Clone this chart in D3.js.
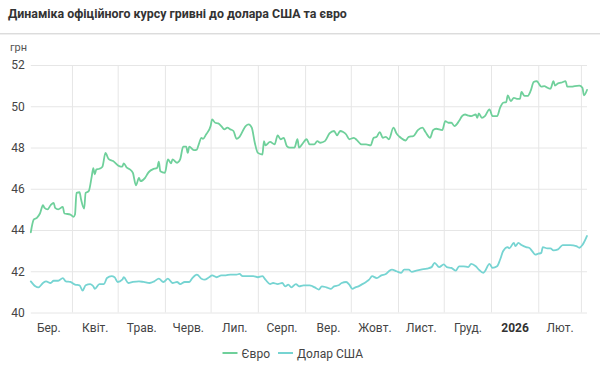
<!DOCTYPE html>
<html>
<head>
<meta charset="utf-8">
<script src="https://cdn.jsdelivr.net/npm/d3@7"></script>
<style>
  body { margin: 0; background: #fff; }
  svg { display: block; font-family: Roboto, "Liberation Sans", Arial, sans-serif; }
</style>
</head>
<body>
<svg id="chart" width="600" height="381"></svg>
<script>
// ---------- DATA ----------
const titleText = "Динаміка офіційного курсу гривні до долара США та євро";
const unitLabel = "грн";
const seriesNames = ["Євро", "Долар США"];
const yTicks = [40, 42, 44, 46, 48, 50, 52];
const monthLabels = ["Бер.", "Квіт.", "Трав.", "Черв.", "Лип.", "Серп.", "Вер.", "Жовт.", "Лист.", "Груд.", "2026", "Лют."];
const boldLabels = ["2026"];
const periodStart = "2025-03-05";
const periodEnd = "2026-03-05";

const euroDates = [
"2025-03-05","2025-03-07","2025-03-09","2025-03-11","2025-03-13","2025-03-14","2025-03-16","2025-03-18","2025-03-20","2025-03-21","2025-03-23","2025-03-26","2025-03-27","2025-03-31",
"2025-04-02","2025-04-03","2025-04-04","2025-04-06","2025-04-07","2025-04-09","2025-04-10","2025-04-12","2025-04-14","2025-04-15","2025-04-16","2025-04-17","2025-04-19","2025-04-21","2025-04-23","2025-04-25","2025-04-28",
"2025-05-02","2025-05-04","2025-05-05","2025-05-07","2025-05-09","2025-05-11","2025-05-13","2025-05-15","2025-05-16","2025-05-19","2025-05-21","2025-05-22","2025-05-24","2025-05-27","2025-05-28","2025-05-29",
"2025-06-01","2025-06-03","2025-06-05","2025-06-06","2025-06-09","2025-06-11","2025-06-13","2025-06-15","2025-06-16","2025-06-17","2025-06-20","2025-06-22","2025-06-23","2025-06-25","2025-06-26","2025-06-28",
"2025-07-01","2025-07-02","2025-07-04","2025-07-06","2025-07-08","2025-07-10","2025-07-12","2025-07-14","2025-07-16","2025-07-18","2025-07-20","2025-07-24","2025-07-26","2025-07-28","2025-07-30",
"2025-08-01","2025-08-04","2025-08-05","2025-08-06","2025-08-09","2025-08-12","2025-08-14","2025-08-16","2025-08-18","2025-08-20","2025-08-22","2025-08-25","2025-08-27","2025-08-28","2025-08-30",
"2025-09-02","2025-09-04","2025-09-07","2025-09-09","2025-09-11","2025-09-14","2025-09-17","2025-09-20","2025-09-22","2025-09-24","2025-09-26","2025-09-28","2025-09-30",
"2025-10-03","2025-10-05","2025-10-08","2025-10-11","2025-10-14","2025-10-16","2025-10-18","2025-10-20","2025-10-22","2025-10-24","2025-10-26","2025-10-29","2025-10-31",
"2025-11-02","2025-11-03","2025-11-06","2025-11-08","2025-11-11","2025-11-14","2025-11-17","2025-11-19","2025-11-22","2025-11-24","2025-11-26","2025-11-30",
"2025-12-02","2025-12-04","2025-12-06","2025-12-08","2025-12-11","2025-12-13","2025-12-15","2025-12-17","2025-12-19","2025-12-22","2025-12-23","2025-12-24","2025-12-26","2025-12-28","2025-12-31",
"2026-01-02","2026-01-05","2026-01-07","2026-01-09","2026-01-11","2026-01-12","2026-01-14","2026-01-16","2026-01-18","2026-01-20","2026-01-21","2026-01-23","2026-01-25","2026-01-27","2026-01-29","2026-01-31",
"2026-02-01","2026-02-03","2026-02-05","2026-02-07","2026-02-09","2026-02-11","2026-02-12","2026-02-14","2026-02-16","2026-02-19","2026-02-20","2026-02-23","2026-02-25","2026-02-28",
"2026-03-02","2026-03-03","2026-03-05"];
const euroValues = [
43.89,44.51,44.59,44.80,45.20,45.07,45.00,45.20,45.32,45.07,45.00,45.12,44.80,44.75,
44.64,44.75,45.80,45.83,45.48,45.04,45.80,45.88,46.60,47.00,46.70,46.94,46.97,47.07,47.74,47.45,47.34,
47.10,47.07,47.23,47.02,46.94,46.77,46.16,46.53,46.37,46.53,46.77,46.85,46.94,47.02,47.31,46.85,
46.77,47.42,47.23,47.42,47.26,47.42,48.04,48.04,47.74,48.04,47.87,47.90,48.10,48.47,48.42,48.63,
49.04,49.36,49.20,49.17,49.04,48.88,48.96,48.88,48.80,48.42,48.52,49.04,49.12,48.96,48.23,
47.74,47.66,48.31,48.10,48.27,48.15,48.59,48.40,48.47,48.07,47.99,47.99,48.40,47.99,48.15,
48.40,48.15,48.15,48.31,48.23,48.31,48.68,48.80,48.59,48.80,48.75,48.63,48.40,
48.47,48.36,48.15,48.15,48.10,48.47,48.52,48.75,48.47,48.52,48.40,48.96,48.68,
48.52,48.46,48.34,48.52,48.55,48.84,48.96,48.75,48.47,48.84,48.91,48.84,
49.28,49.20,49.20,49.04,49.28,49.52,49.60,49.55,49.52,49.60,49.44,49.65,49.44,49.52,49.85,
49.52,49.52,49.93,50.17,50.20,50.53,50.25,50.41,50.36,50.36,50.69,50.50,50.50,50.74,51.17,51.22,
51.14,50.95,50.98,50.90,50.85,51.22,51.00,51.11,51.14,51.22,50.95,50.95,50.98,51.00,
50.90,50.53,50.79];

const usdDates = [
"2025-03-05","2025-03-08","2025-03-10","2025-03-13","2025-03-15","2025-03-18","2025-03-20","2025-03-23","2025-03-26","2025-03-28","2025-03-31",
"2025-04-03","2025-04-06","2025-04-08","2025-04-10","2025-04-13","2025-04-15","2025-04-16","2025-04-19","2025-04-22","2025-04-24","2025-04-27","2025-04-29",
"2025-05-01","2025-05-04","2025-05-05","2025-05-08","2025-05-11","2025-05-15","2025-05-18","2025-05-22","2025-05-25","2025-05-28","2025-05-31",
"2025-06-03","2025-06-06","2025-06-09","2025-06-11","2025-06-14","2025-06-17","2025-06-19","2025-06-22","2025-06-25","2025-06-27","2025-06-30",
"2025-07-02","2025-07-05","2025-07-08","2025-07-11","2025-07-14","2025-07-18","2025-07-20","2025-07-22","2025-07-26","2025-07-29",
"2025-08-01","2025-08-04","2025-08-06","2025-08-09","2025-08-11","2025-08-14","2025-08-17","2025-08-19","2025-08-21","2025-08-23","2025-08-26","2025-08-28","2025-08-31",
"2025-09-04","2025-09-06","2025-09-08","2025-09-10","2025-09-12","2025-09-15","2025-09-18","2025-09-20","2025-09-23","2025-09-25","2025-09-28","2025-09-30",
"2025-10-02","2025-10-04","2025-10-06","2025-10-08","2025-10-11","2025-10-13","2025-10-15","2025-10-18","2025-10-21","2025-10-24","2025-10-26","2025-10-28","2025-10-31",
"2025-11-03","2025-11-05","2025-11-08","2025-11-10","2025-11-13","2025-11-16","2025-11-20","2025-11-23","2025-11-25","2025-11-28",
"2025-12-01","2025-12-03","2025-12-06","2025-12-09","2025-12-11","2025-12-14","2025-12-17","2025-12-19","2025-12-22","2025-12-24","2025-12-27","2025-12-28","2025-12-31",
"2026-01-02","2026-01-05","2026-01-07","2026-01-09","2026-01-12","2026-01-13","2026-01-16","2026-01-17","2026-01-19","2026-01-21","2026-01-24","2026-01-26","2026-01-28","2026-01-30",
"2026-02-01","2026-02-03","2026-02-04","2026-02-07","2026-02-09","2026-02-11","2026-02-14","2026-02-17","2026-02-19","2026-02-22","2026-02-26","2026-02-28",
"2026-03-02","2026-03-05"];
const usdValues = [
41.51,41.27,41.22,41.43,41.51,41.43,41.54,41.54,41.67,41.51,41.48,
41.35,41.32,41.06,41.32,41.38,41.27,41.15,41.38,41.38,41.67,41.76,41.71,
41.48,41.59,41.71,41.43,41.48,41.51,41.48,41.43,41.51,41.64,41.48,
41.64,41.43,41.48,41.38,41.48,41.48,41.67,41.84,41.64,41.59,41.71,
41.80,41.71,41.80,41.80,41.84,41.84,41.87,41.76,41.76,41.76,
41.71,41.76,41.59,41.38,41.43,41.38,41.43,41.27,41.35,41.22,41.38,41.27,41.32,
41.32,41.27,41.19,41.11,41.27,41.22,41.15,41.27,41.32,41.43,41.48,41.35,
41.15,41.22,41.27,41.35,41.48,41.59,41.76,41.67,41.80,41.87,42.00,42.08,42.00,
41.92,42.08,42.08,41.97,42.03,42.08,42.13,42.20,42.41,42.20,
42.33,42.20,42.16,42.03,42.24,42.24,42.20,42.36,42.24,42.08,41.92,42.00,42.36,
42.16,42.24,42.57,42.98,43.17,43.11,43.38,43.22,43.38,43.27,43.17,43.14,42.98,42.81,
42.85,42.89,43.17,43.11,43.11,43.01,43.06,43.27,43.27,43.27,43.22,43.14,
43.27,43.71];

const seriesColors = ["#6fd09b", "#76d4d2"];

// ---------- CHART ----------
const parse = d3.timeParse("%Y-%m-%d");
const svg = d3.select("#chart");
const W = 600, H = 381;
const plot = { left: 30.8, right: 587, top: 65, bottom: 312.5 };

const x = d3.scaleTime()
  .domain([parse(periodStart), parse(periodEnd)])
  .range([plot.left, plot.right]);
const y = d3.scaleLinear().domain([40, 52]).range([plot.bottom, plot.top]);

// title
svg.append("text").attr("x", 8).attr("y", 18)
  .attr("font-size", 12.4).attr("font-weight", "bold").attr("fill", "#333")
  .text(titleText);
svg.append("rect").attr("x", 0).attr("y", 33).attr("width", W).attr("height", 1).attr("fill", "#dcdcdc");
svg.append("rect").attr("x", 0).attr("y", 34).attr("width", W).attr("height", 1).attr("fill", "#efefef");

// unit label
svg.append("text").attr("x", 10).attr("y", 51)
  .attr("font-size", 11).attr("fill", "#555").text(unitLabel);

// horizontal grid + y labels
const yAxis = d3.axisLeft(y).tickValues(yTicks).tickSize(-(plot.right - plot.left)).tickPadding(6);
const gy = svg.append("g").attr("transform", `translate(${plot.left},0)`).call(yAxis);
gy.select(".domain").remove();
gy.selectAll(".tick line").attr("stroke", "#e6e6e6");
gy.selectAll(".tick text").attr("font-size", 12).attr("fill", "#444")
  .attr("font-family", "Roboto, 'Liberation Sans', Arial, sans-serif");

// vertical grid at month starts
const monthStarts = d3.timeMonth.range(d3.timeMonth.ceil(parse(periodStart)), parse(periodEnd));
const gx = svg.append("g").attr("transform", `translate(0,${plot.bottom})`)
  .call(d3.axisBottom(x).tickValues(monthStarts).tickSize(-(plot.bottom - plot.top)).tickFormat(""));
gx.select(".domain").remove();
gx.selectAll(".tick line").attr("stroke", "#e6e6e6");

// month labels at mid-month
const labelMonths = d3.timeMonth.range(d3.timeMonth.floor(parse(periodStart)), parse(periodEnd)).slice(0, monthLabels.length);
const xl = d3.axisBottom(x)
  .tickValues(labelMonths.map(m => new Date((+m + +d3.timeMonth.offset(m, 1)) / 2)))
  .tickSize(0).tickPadding(11)
  .tickFormat((d, i) => monthLabels[i]);
const gxl = svg.append("g").attr("transform", `translate(0,${plot.bottom})`).call(xl);
gxl.select(".domain").remove();
gxl.selectAll(".tick text").attr("font-size", 12).attr("fill", "#444")
  .attr("font-family", "Roboto, 'Liberation Sans', Arial, sans-serif")
  .attr("font-weight", (d, i) => boldLabels.includes(monthLabels[i]) ? "bold" : "normal")
  .attr("fill", (d, i) => boldLabels.includes(monthLabels[i]) ? "#333" : "#444");

// lines
const line = d3.line().x(d => x(d.date)).y(d => y(d.value)).curve(d3.curveMonotoneX);
const euro = euroDates.map((d, i) => ({ date: parse(d), value: euroValues[i] }));
const usd = usdDates.map((d, i) => ({ date: parse(d), value: usdValues[i] }));
[euro, usd].forEach((data, i) => {
  svg.append("path").datum(data).attr("d", line)
    .attr("fill", "none").attr("stroke", seriesColors[i])
    .attr("stroke-width", 1.8).attr("stroke-linejoin", "round").attr("stroke-linecap", "round");
});

// legend
const legendY = 353;
const legendItems = [{ x: 222.5 }, { x: 278 }];
legendItems.forEach((it, i) => {
  svg.append("line").attr("x1", it.x).attr("x2", it.x + 15).attr("y1", legendY).attr("y2", legendY)
    .attr("stroke", seriesColors[i]).attr("stroke-width", 2);
  svg.append("text").attr("x", it.x + 19).attr("y", legendY + 4.5)
    .attr("font-size", 12).attr("fill", "#444").text(seriesNames[i]);
});
</script>
</body>
</html>
